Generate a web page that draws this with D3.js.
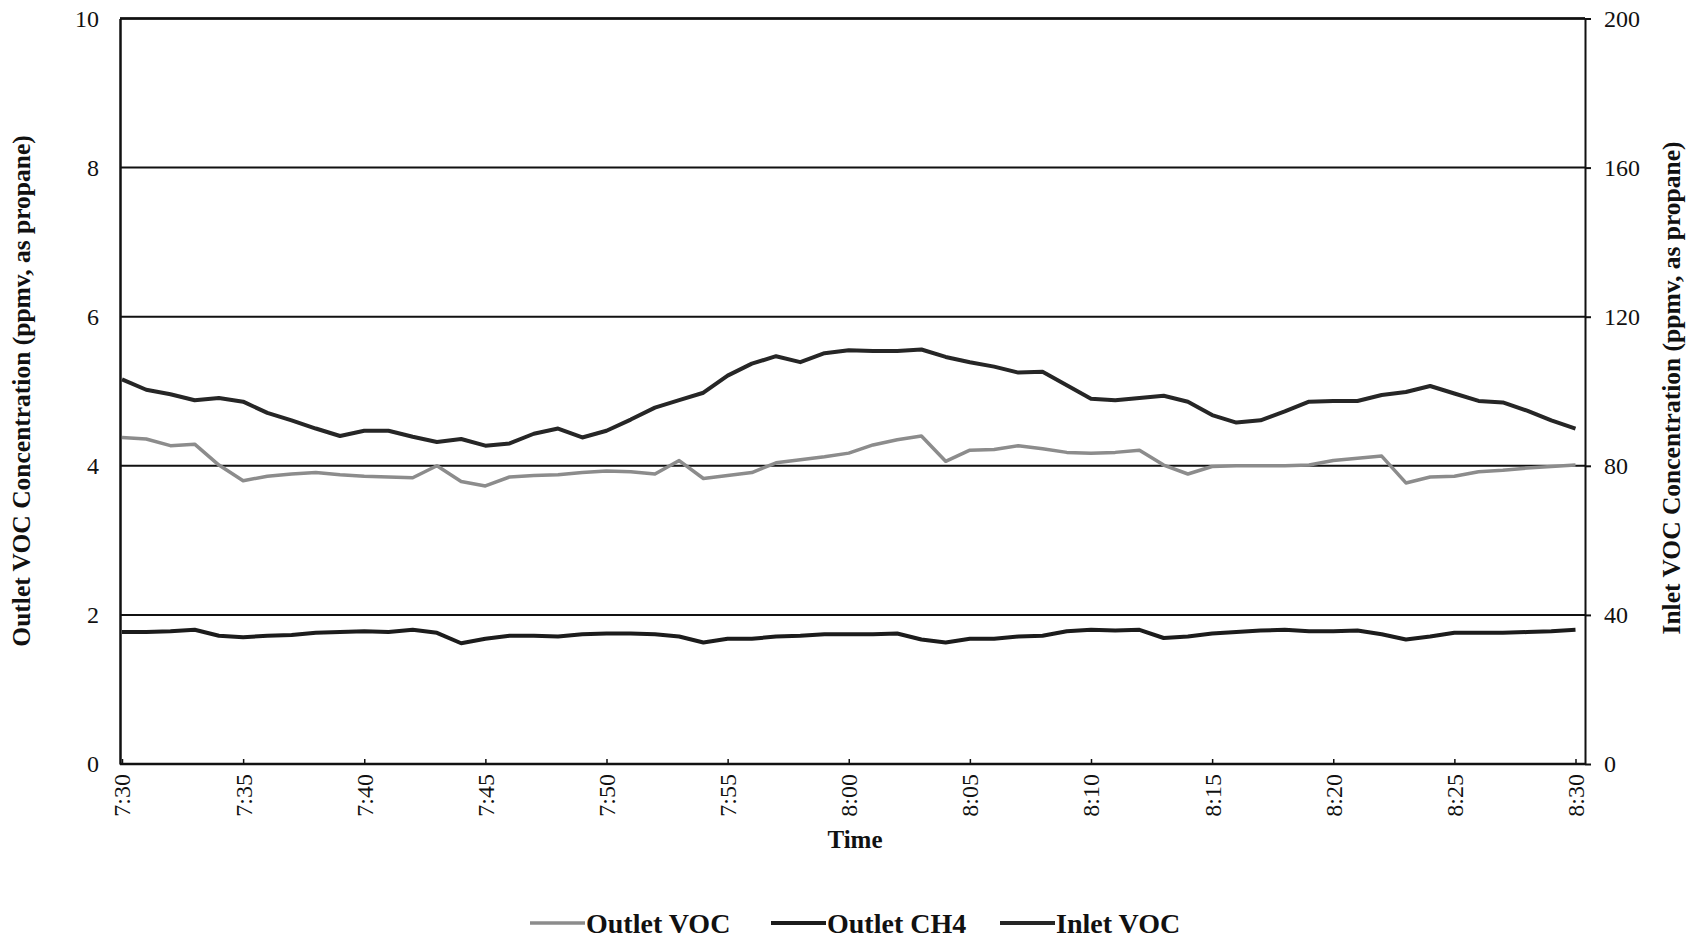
<!DOCTYPE html>
<html>
<head>
<meta charset="utf-8">
<script src="https://cdn.jsdelivr.net/npm/d3@7/dist/d3.min.js"></script>
<style>
  body { margin: 0; background: #fff; }
  svg { display: block; font-family: "Liberation Serif", "Times New Roman", serif; }
</style>
</head>
<body>
<svg id="chart"></svg>
<script>
const times = [
  "7:30","7:31","7:32","7:33","7:34","7:35","7:36","7:37","7:38","7:39",
  "7:40","7:41","7:42","7:43","7:44","7:45","7:46","7:47","7:48","7:49",
  "7:50","7:51","7:52","7:53","7:54","7:55","7:56","7:57","7:58","7:59",
  "8:00","8:01","8:02","8:03","8:04","8:05","8:06","8:07","8:08","8:09",
  "8:10","8:11","8:12","8:13","8:14","8:15","8:16","8:17","8:18","8:19",
  "8:20","8:21","8:22","8:23","8:24","8:25","8:26","8:27","8:28","8:29","8:30"
];
const timeTicks = ["7:30","7:35","7:40","7:45","7:50","7:55","8:00","8:05","8:10","8:15","8:20","8:25","8:30"];
const leftTicks = [0, 2, 4, 6, 8, 10];
const rightTicks = [0, 40, 80, 120, 160, 200];

// ppmv as propane, left axis
const outletVOC = [
  4.38, 4.36, 4.27, 4.29, 4.01, 3.80, 3.86, 3.89, 3.91, 3.88,
  3.86, 3.85, 3.84, 4.00, 3.79, 3.73, 3.85, 3.87, 3.88, 3.91,
  3.93, 3.92, 3.89, 4.07, 3.83, 3.87, 3.91, 4.04, 4.08, 4.12,
  4.17, 4.28, 4.35, 4.40, 4.06, 4.21, 4.22, 4.27, 4.23, 4.18,
  4.17, 4.18, 4.21, 4.01, 3.89, 3.99, 4.00, 4.00, 4.00, 4.01,
  4.07, 4.10, 4.13, 3.77, 3.85, 3.86, 3.92, 3.94, 3.97, 3.99, 4.01
];
const outletCH4 = [
  1.77, 1.77, 1.78, 1.80, 1.72, 1.70, 1.72, 1.73, 1.76, 1.77,
  1.78, 1.77, 1.80, 1.76, 1.62, 1.68, 1.72, 1.72, 1.71, 1.74,
  1.75, 1.75, 1.74, 1.71, 1.63, 1.68, 1.68, 1.71, 1.72, 1.74,
  1.74, 1.74, 1.75, 1.67, 1.63, 1.68, 1.68, 1.71, 1.72, 1.78,
  1.80, 1.79, 1.80, 1.69, 1.71, 1.75, 1.77, 1.79, 1.80, 1.78,
  1.78, 1.79, 1.74, 1.67, 1.71, 1.76, 1.76, 1.76, 1.77, 1.78, 1.80
];
// right axis
const inletVOC = [
  103.2, 100.4, 99.2, 97.6, 98.2, 97.2, 94.2, 92.2, 90.0, 88.0,
  89.4, 89.4, 87.8, 86.4, 87.2, 85.4, 86.0, 88.6, 90.0, 87.6,
  89.4, 92.4, 95.6, 97.6, 99.6, 104.2, 107.4, 109.4, 107.8, 110.2,
  111.0, 110.8, 110.8, 111.2, 109.2, 107.8, 106.6, 105.0, 105.2, 101.6,
  98.0, 97.6, 98.2, 98.8, 97.2, 93.6, 91.6, 92.2, 94.6, 97.2,
  97.4, 97.4, 99.0, 99.8, 101.4, 99.4, 97.4, 97.0, 94.8, 92.2, 90.0
];

const W = 1690, H = 939;
const plot = {left: 120, right: 1585, top: 18.5, bottom: 764};

const svg = d3.select("#chart").attr("width", W).attr("height", H);
svg.append("rect").attr("width", W).attr("height", H).attr("fill", "#fff");

const x = d3.scalePoint()
    .domain(times)
    .range([122, 1575.5]);

const yL = d3.scaleLinear().domain([0, 10]).range([plot.bottom, plot.top]);
const yR = d3.scaleLinear().domain([0, 200]).range([plot.bottom, plot.top]);

// gridlines
svg.append("g")
  .selectAll("line")
  .data(leftTicks.filter(d => d > 0))
  .join("line")
    .attr("x1", plot.left)
    .attr("x2", plot.right)
    .attr("y1", d => yL(d))
    .attr("y2", d => yL(d))
    .attr("stroke", "#111")
    .attr("stroke-width", 2);

// Left axis
const gL = svg.append("g")
    .attr("transform", `translate(${plot.left},0)`)
    .call(d3.axisLeft(yL).tickValues(leftTicks).tickSize(0).tickPadding(21));
gL.select(".domain").attr("stroke", "#111").attr("stroke-width", 2.5);
gL.selectAll("text").attr("font-size", 24).attr("fill", "#111").attr("font-family", "Liberation Serif");

// Right axis
const gR = svg.append("g")
    .attr("transform", `translate(${plot.right},0)`)
    .call(d3.axisRight(yR).tickValues(rightTicks).tickSizeInner(6).tickSizeOuter(0).tickPadding(13));
gR.select(".domain").attr("stroke", "#111").attr("stroke-width", 2);
gR.selectAll(".tick line").attr("stroke", "#111").attr("stroke-width", 2);
gR.selectAll("text").attr("font-size", 24).attr("fill", "#111").attr("font-family", "Liberation Serif");

// Bottom axis
const gB = svg.append("g")
    .attr("transform", `translate(0,${plot.bottom})`)
    .call(d3.axisBottom(x).tickValues(timeTicks).tickSizeInner(-5).tickSizeOuter(0).tickPadding(0));
gB.select(".domain").attr("d", `M${plot.left},0H${plot.right}`).attr("stroke", "#111").attr("stroke-width", 2.5);
gB.selectAll(".tick line").attr("stroke", "#111").attr("stroke-width", 1.5);
gB.selectAll(".tick text")
    .attr("font-size", 24)
    .attr("fill", "#111")
    .attr("font-family", "Liberation Serif")
    .attr("transform", "rotate(-90)")
    .attr("text-anchor", "end")
    .attr("dy", "0.33em")
    .attr("x", -10)
    .attr("y", 0);

// top border
svg.append("line")
    .attr("x1", plot.left).attr("x2", plot.right)
    .attr("y1", plot.top).attr("y2", plot.top)
    .attr("stroke", "#111").attr("stroke-width", 2.5);

// series
const lineL = d3.line().x((d, i) => x(times[i])).y(d => yL(d));
const lineR = d3.line().x((d, i) => x(times[i])).y(d => yR(d));

const series = [
  {name: "Outlet VOC", data: outletVOC, line: lineL, color: "#8c8c8c", width: 3.5},
  {name: "Outlet CH4", data: outletCH4, line: lineL, color: "#1c1c1c", width: 4},
  {name: "Inlet VOC", data: inletVOC, line: lineR, color: "#262626", width: 4}
];

svg.append("g")
  .selectAll("path")
  .data(series)
  .join("path")
    .attr("fill", "none")
    .attr("stroke", d => d.color)
    .attr("stroke-width", d => d.width)
    .attr("stroke-linejoin", "round")
    .attr("d", d => d.line(d.data));

// axis titles
svg.append("text")
    .attr("transform", `translate(30,391) rotate(-90)`)
    .attr("text-anchor", "middle")
    .attr("font-size", 25.5)
    .attr("font-weight", "bold")
    .attr("fill", "#111")
    .text("Outlet VOC Concentration (ppmv, as propane)");

svg.append("text")
    .attr("transform", `translate(1680,388) rotate(-90)`)
    .attr("text-anchor", "middle")
    .attr("font-size", 25.5)
    .attr("font-weight", "bold")
    .attr("fill", "#111")
    .text("Inlet VOC Concentration (ppmv, as propane)");

svg.append("text")
    .attr("x", 855)
    .attr("y", 848)
    .attr("text-anchor", "middle")
    .attr("font-size", 25)
    .attr("font-weight", "bold")
    .attr("fill", "#111")
    .text("Time");

// legend
const legendX = [530, 771, 1000];
const legend = svg.append("g").selectAll("g")
  .data(series)
  .join("g")
    .attr("transform", (d, i) => `translate(${legendX[i]},923)`);

legend.append("line")
    .attr("x1", 0).attr("x2", 55)
    .attr("y1", 0).attr("y2", 0)
    .attr("stroke", d => d.color)
    .attr("stroke-width", d => d.width);

legend.append("text")
    .attr("x", 56)
    .attr("y", 10)
    .attr("font-size", 28)
    .attr("font-weight", "bold")
    .attr("fill", "#111")
    .text(d => d.name);
</script>
</body>
</html>
